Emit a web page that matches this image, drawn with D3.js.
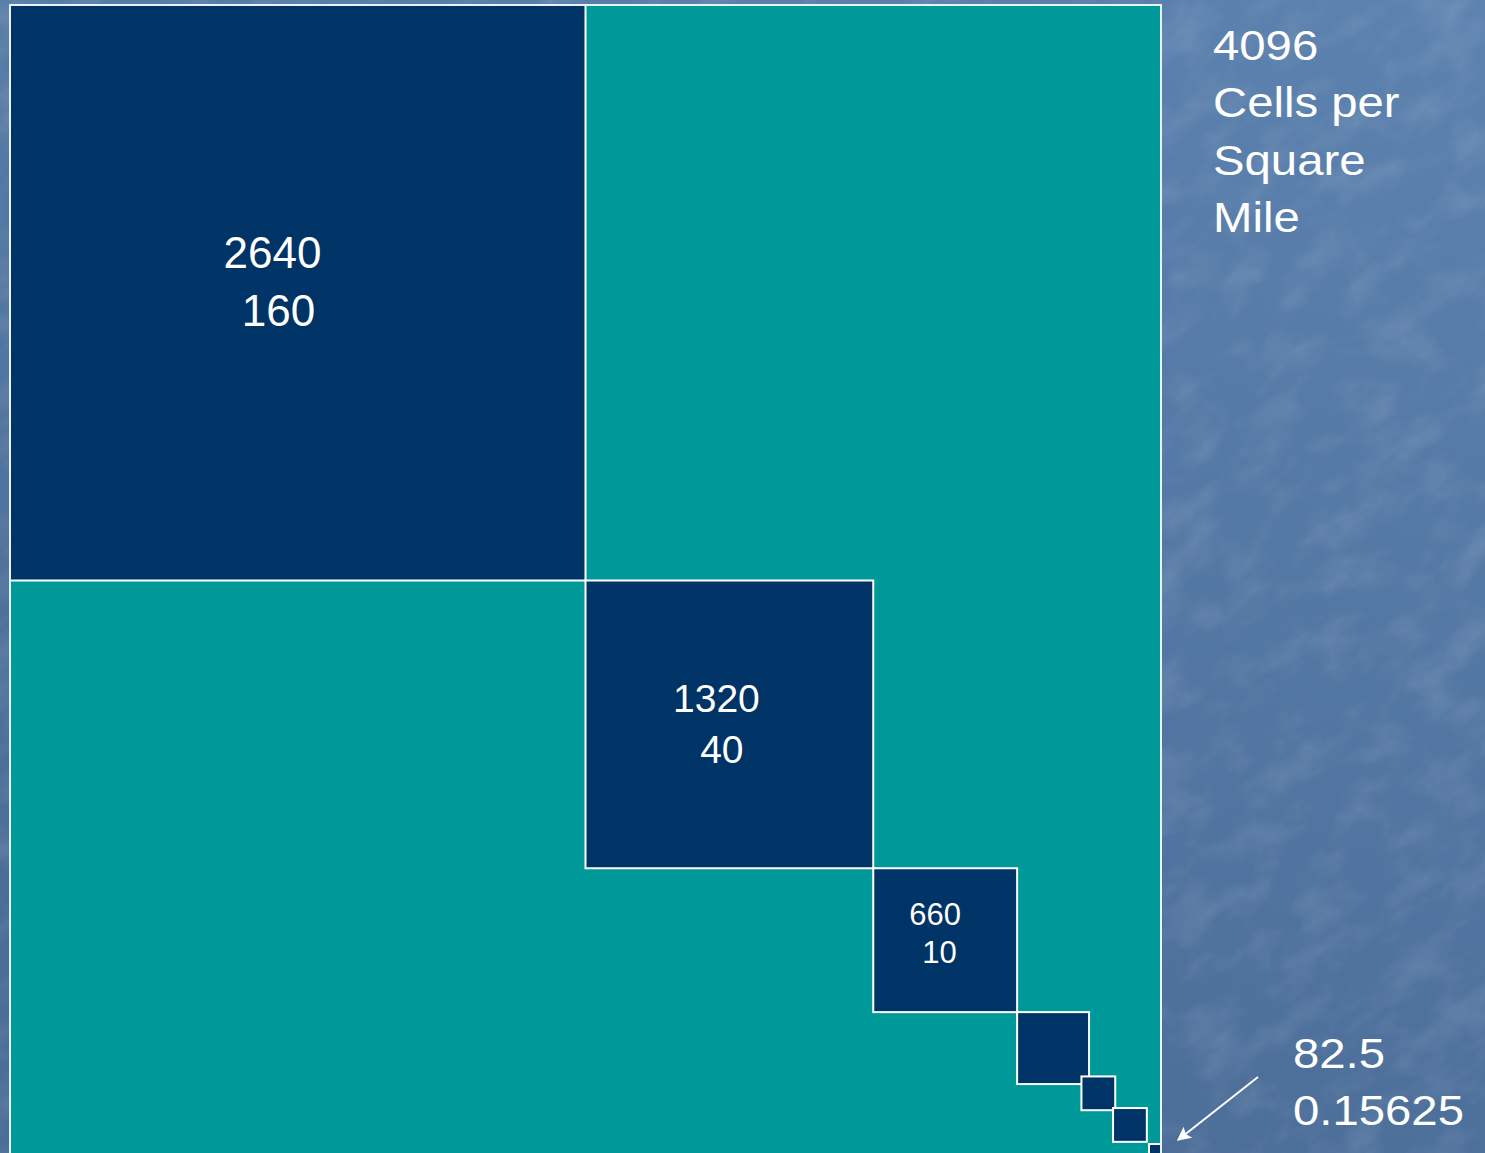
<!DOCTYPE html>
<html>
<head>
<meta charset="utf-8">
<script src="https://cdn.jsdelivr.net/npm/d3@7"></script>
<style>
  html, body { margin: 0; padding: 0; background: #5578a3; overflow: hidden; }
  text { font-family: "Liberation Sans", Arial, sans-serif; fill: #fff; white-space: pre; }
</style>
</head>
<body>
<script>
const width = 1485;
const height = 1153;

// one square mile, in feet
const mileFeet = 5280;

// squares down the diagonal: start (ft from the corner) and side (ft)
const squareStart = [0, 2640, 3960, 4620, 4915, 5060, 5225];
const squareSide = [2640, 1320, 660, 330, 155, 155, 82.5];

// side in feet / area in acres for the labelled squares
const sideLabels = ['2640', '1320', '660'];
const acreLabels = [' 160', ' 40', ' 10'];

const smallLabels = ['82.5', '0.15625'];
const titleLines = ['4096', 'Cells per', 'Square', 'Mile'];

// label look for each labelled square (fractions of the square's side)
const labelStyle = [
  { size: 44, gap: 58, fx: 0.456, fy: 0.457 },
  { size: 39, gap: 51, fx: 0.455, fy: 0.457 },
  { size: 31, gap: 38, fx: 0.43, fy: 0.396 }
];

const navy = '#003366';
const teal = '#009999';

const x = d3.scaleLinear().domain([0, mileFeet]).range([10, 1161]);
const y = d3.scaleLinear().domain([0, mileFeet]).range([5, 1156]);
const len = d => x(d) - x(0);

const svg = d3.select('body')
  .append('svg')
  .attr('width', width)
  .attr('height', height);

const defs = svg.append('defs');

const grad = defs.append('linearGradient')
  .attr('id', 'bg')
  .attr('x1', 1).attr('y1', 0)
  .attr('x2', 0.6).attr('y2', 1);
grad.append('stop').attr('offset', 0).attr('stop-color', '#5c82af');
grad.append('stop').attr('offset', 1).attr('stop-color', '#4b6d98');

// soft mottled texture, streaks running up to the right
const tex = defs.append('filter')
  .attr('id', 'tex')
  .attr('x', 0).attr('y', 0).attr('width', 1).attr('height', 1);
tex.append('feTurbulence')
  .attr('type', 'fractalNoise')
  .attr('baseFrequency', '0.018 0.03')
  .attr('numOctaves', 4)
  .attr('seed', 3);
tex.append('feColorMatrix')
  .attr('type', 'matrix')
  .attr('values', '0 0 0 0 1  0 0 0 0 1  0 0 0 0 1  0 0 0 1.4 -0.6');

defs.append('clipPath')
  .attr('id', 'mile')
  .append('rect')
  .attr('x', x(0)).attr('y', y(0))
  .attr('width', len(mileFeet)).attr('height', len(mileFeet));

// background
svg.append('rect')
  .attr('width', width).attr('height', height)
  .attr('fill', 'url(#bg)');
svg.append('g')
  .attr('transform', 'rotate(-35 742 576)')
  .append('rect')
  .attr('x', -600).attr('y', -600)
  .attr('width', width + 1200).attr('height', height + 1200)
  .attr('filter', 'url(#tex)')
  .attr('opacity', 0.16);

// the square mile
svg.append('rect')
  .attr('x', x(0)).attr('y', y(0))
  .attr('width', len(mileFeet)).attr('height', len(mileFeet))
  .attr('fill', teal);

const squares = squareStart.map((s, i) => ({ s, side: squareSide[i] }));

svg.append('g')
  .attr('clip-path', 'url(#mile)')
  .selectAll('rect')
  .data(squares)
  .join('rect')
  .attr('x', d => x(d.s))
  .attr('y', d => y(d.s))
  .attr('width', d => len(d.side))
  .attr('height', d => len(d.side))
  .attr('fill', navy)
  .attr('stroke', '#fff')
  .attr('stroke-width', 2);

svg.append('rect')
  .attr('x', x(0)).attr('y', y(0))
  .attr('width', len(mileFeet)).attr('height', len(mileFeet))
  .attr('fill', 'none')
  .attr('stroke', '#e8f4f4')
  .attr('stroke-width', 2);

// labels inside the squares
sideLabels.forEach((lab, i) => {
  const st = labelStyle[i];
  const d = squares[i];
  const cx = x(d.s) + st.fx * len(d.side);
  const by = y(d.s) + st.fy * len(d.side);
  const t = svg.append('text')
    .attr('text-anchor', 'middle')
    .attr('font-size', st.size);
  t.append('tspan').attr('x', cx).attr('y', by).text(lab);
  t.append('tspan').attr('x', cx).attr('y', by + st.gap).text(acreLabels[i]);
});

// side note
const title = svg.append('text')
  .attr('transform', 'translate(1213,60) scale(1.1,1)')
  .attr('font-size', 43);
title.selectAll('tspan')
  .data(titleLines)
  .join('tspan')
  .attr('x', 0)
  .attr('y', (d, i) => i * 57.3)
  .text(d => d);

const small = svg.append('text')
  .attr('transform', 'translate(1293,1068) scale(1.1,1)')
  .attr('font-size', 43);
small.selectAll('tspan')
  .data(smallLabels)
  .join('tspan')
  .attr('x', 0)
  .attr('y', (d, i) => i * 57)
  .text(d => d);

// arrow to the smallest square
defs.append('marker')
  .attr('id', 'head')
  .attr('viewBox', '0 0 10 10')
  .attr('refX', 9).attr('refY', 5)
  .attr('markerWidth', 16).attr('markerHeight', 14)
  .attr('markerUnits', 'userSpaceOnUse')
  .attr('orient', 'auto')
  .append('path')
  .attr('d', 'M0,0L10,5L0,10L2,5Z')
  .attr('fill', '#fff');

svg.append('line')
  .attr('x1', 1258).attr('y1', 1077)
  .attr('x2', 1178).attr('y2', 1140)
  .attr('stroke', '#fff')
  .attr('stroke-width', 2)
  .attr('marker-end', 'url(#head)');
</script>
</body>
</html>
